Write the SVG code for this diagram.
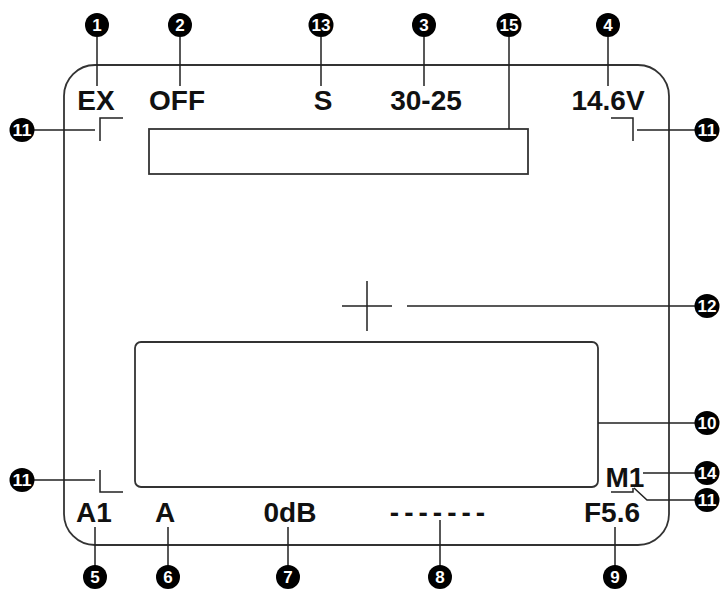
<svg xmlns="http://www.w3.org/2000/svg" width="720" height="590" viewBox="0 0 720 590">
<style>
.ln{stroke:#222;stroke-width:1.5;fill:none}
.fr{stroke:#333;stroke-width:1.8;fill:none}
.t{font-family:"Liberation Sans",Arial,sans-serif;font-weight:bold;font-size:28px;fill:#111;text-anchor:middle}
.n{font-family:"Liberation Sans",Arial,sans-serif;font-weight:bold;font-size:17px;fill:#fff;text-anchor:middle}
.c{fill:#000}
</style>
<rect width="720" height="590" fill="#fff"/>
<g id="frame">
<rect class="fr" x="64" y="65" width="605" height="480" rx="31" ry="31"/>
<rect class="fr" x="149" y="129" width="379" height="45"/>
<rect class="fr" x="135" y="342" width="463" height="145" rx="6" ry="6"/>
<path class="ln" d="M342 306H392M367 281V331"/>
<path class="ln" d="M123 118H100V141M611 118H633V141M100 470V492H123"/>
<path class="ln" d="M611 492H633V488"/>
</g>
<g id="connectors">
<path class="ln" d="M97 37V86M180 37V86M321 37V86M424 37V86M509 37V129M608 37V86"/>
<path class="ln" d="M34 130H95M34 480H95M637 130H698M407 306H698M598 423H698M643 473H698M634 488L647 500H698"/>
<path class="ln" d="M95 527V566M168 527V566M288 527V566M440 520V566M615 527V566"/>
</g>
<g id="labels">
<text class="t" x="96" y="110">EX</text>
<text class="t" x="177" y="110">OFF</text>
<text class="t" x="323" y="110">S</text>
<text class="t" x="426" y="110">30-25</text>
<text class="t" x="608" y="110">14.6V</text>
<text class="t" x="625" y="487">M1</text>
<text class="t" x="94" y="522">A1</text>
<text class="t" x="165" y="522">A</text>
<text class="t" x="290" y="522">0dB</text>
<text class="t" x="440" y="522" letter-spacing="5">-------</text>
<text class="t" x="612" y="522">F5.6</text>
</g>
<g id="callouts">
<g id="c1"><circle class="c" cx="97" cy="25" r="12"/><text class="n" x="97" y="31">1</text></g>
<g id="c2"><circle class="c" cx="180" cy="25" r="12"/><text class="n" x="180" y="31">2</text></g>
<g id="c13"><ellipse class="c" cx="321" cy="25" rx="12.5" ry="12"/><text class="n" x="321" y="31" textLength="19" lengthAdjust="spacingAndGlyphs">13</text></g>
<g id="c3"><circle class="c" cx="424" cy="25" r="12"/><text class="n" x="424" y="31">3</text></g>
<g id="c15"><ellipse class="c" cx="509" cy="25" rx="12.5" ry="12"/><text class="n" x="509" y="31" textLength="19" lengthAdjust="spacingAndGlyphs">15</text></g>
<g id="c4"><circle class="c" cx="608" cy="25" r="12"/><text class="n" x="608" y="31">4</text></g>
<g id="c11a"><ellipse class="c" cx="22" cy="130" rx="12.5" ry="12"/><text class="n" x="22" y="136" textLength="19" lengthAdjust="spacingAndGlyphs">11</text></g>
<g id="c11b"><ellipse class="c" cx="22" cy="480" rx="12.5" ry="12"/><text class="n" x="22" y="486" textLength="19" lengthAdjust="spacingAndGlyphs">11</text></g>
<g id="c11c"><ellipse class="c" cx="707" cy="130" rx="12.5" ry="12"/><text class="n" x="707" y="136" textLength="19" lengthAdjust="spacingAndGlyphs">11</text></g>
<g id="c12"><ellipse class="c" cx="707" cy="306" rx="12.5" ry="12"/><text class="n" x="707" y="312" textLength="19" lengthAdjust="spacingAndGlyphs">12</text></g>
<g id="c10"><ellipse class="c" cx="707" cy="423" rx="12.5" ry="12"/><text class="n" x="707" y="429" textLength="19" lengthAdjust="spacingAndGlyphs">10</text></g>
<g id="c14"><ellipse class="c" cx="707" cy="473" rx="12.5" ry="12"/><text class="n" x="707" y="479" textLength="19" lengthAdjust="spacingAndGlyphs">14</text></g>
<g id="c11d"><ellipse class="c" cx="707" cy="500" rx="12.5" ry="12"/><text class="n" x="707" y="506" textLength="19" lengthAdjust="spacingAndGlyphs">11</text></g>
<g id="c5"><circle class="c" cx="95" cy="577" r="12"/><text class="n" x="95" y="583">5</text></g>
<g id="c6"><circle class="c" cx="168" cy="577" r="12"/><text class="n" x="168" y="583">6</text></g>
<g id="c7"><circle class="c" cx="288" cy="577" r="12"/><text class="n" x="288" y="583">7</text></g>
<g id="c8"><circle class="c" cx="440" cy="577" r="12"/><text class="n" x="440" y="583">8</text></g>
<g id="c9"><circle class="c" cx="615" cy="577" r="12"/><text class="n" x="615" y="583">9</text></g>
</g>
</svg>
